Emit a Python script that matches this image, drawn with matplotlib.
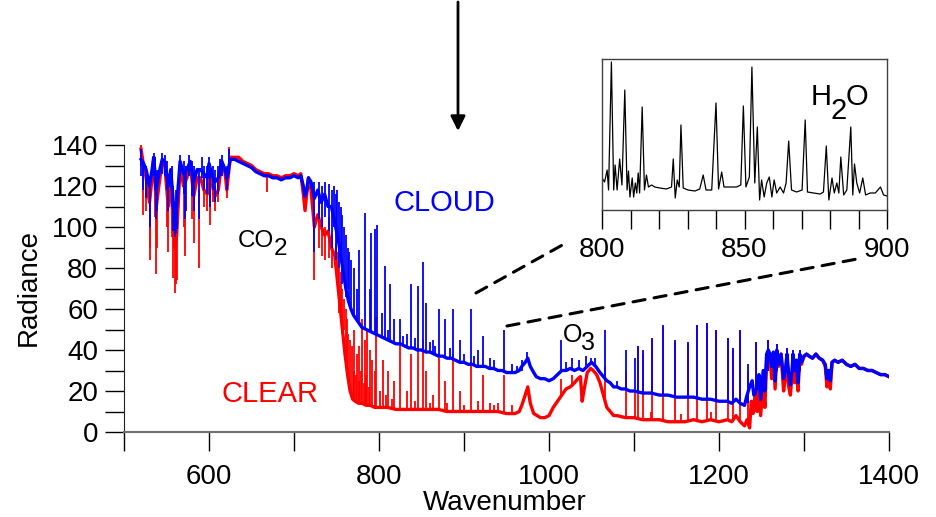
import matplotlib
matplotlib.use("Agg")
import matplotlib.pyplot as plt
from matplotlib.patches import ConnectionPatch

plt.rcParams['font.family'] = ['Liberation Sans', 'DejaVu Sans']

# spectre avec nuage (bleu) : fond continu (nombre d'onde, radiance)
cloud_base = [
    (520, 133), (523, 131), (526, 128), (530, 120), (533, 128), (535, 134), (538, 118),
    (541, 126), (545, 133), (548, 132), (552, 120), (555, 128), (558, 112), (560, 104),
    (562, 110), (566, 132), (570, 126), (574, 128), (578, 132), (582, 122), (586, 128),
    (590, 128), (594, 126), (598, 124), (600, 131), (603, 126), (607, 122), (611, 124),
    (615, 132), (619, 128), (621, 124), (625, 133), (630, 133), (635, 132), (640, 131),
    (645, 130), (650, 129), (655, 127), (660, 126), (665, 125), (670, 125), (675, 124),
    (680, 124), (685, 123), (690, 124), (695, 124), (700, 125), (705, 124), (708, 125),
    (711, 120), (713, 115), (715, 118), (717, 124), (720, 122), (724, 114), (728, 118),
    (732, 112), (736, 116), (740, 110), (744, 110), (748, 102), (752, 94), (755, 86),
    (758, 78), (761, 70), (764, 64), (767, 60), (770, 57), (775, 54), (780, 51),
    (785, 50), (790, 49), (795, 48), (800, 47), (805, 46), (810, 45), (815, 44),
    (820, 43), (825, 43), (830, 42), (835, 41), (840, 41), (845, 40), (850, 40),
    (855, 39), (860, 39), (865, 38), (870, 37), (875, 37), (880, 36), (885, 36),
    (890, 35), (895, 34), (900, 34), (905, 33), (910, 33), (915, 32), (920, 32),
    (925, 32), (930, 31), (935, 31), (940, 30), (945, 30), (950, 29), (955, 29),
    (960, 29), (965, 30), (968, 32), (972, 34), (975, 36), (978, 32), (982, 29),
    (985, 27), (990, 26), (995, 26), (1000, 25), (1005, 26), (1010, 28), (1015, 30),
    (1020, 30), (1025, 31), (1030, 30), (1035, 31), (1040, 30), (1045, 32), (1050, 34),
    (1055, 32), (1060, 29), (1064, 27), (1068, 25), (1072, 24), (1076, 22), (1080, 22),
    (1085, 21), (1090, 21), (1095, 20), (1100, 20), (1110, 19), (1120, 19), (1130, 18),
    (1140, 18), (1150, 17), (1160, 17), (1170, 17), (1180, 16), (1190, 16), (1200, 15),
    (1210, 15), (1215, 14), (1220, 16), (1225, 14), (1230, 13), (1233, 18), (1236, 22),
    (1239, 25), (1241, 18), (1245, 22), (1247, 28), (1249, 16), (1252, 30), (1254, 20),
    (1256, 38), (1258, 40), (1260, 38), (1262, 32), (1264, 39), (1266, 25), (1268, 40),
    (1270, 33), (1273, 38), (1276, 26), (1278, 30), (1280, 38), (1282, 28), (1284, 23),
    (1286, 30), (1287, 38), (1289, 30), (1291, 35), (1293, 24), (1295, 38), (1297, 34),
    (1300, 37), (1303, 38), (1306, 37), (1310, 36), (1314, 38), (1318, 36), (1322, 35),
    (1325, 33), (1327, 26), (1329, 30), (1331, 25), (1333, 34), (1336, 35), (1340, 34),
    (1345, 35), (1350, 33), (1355, 32), (1360, 33), (1365, 31), (1370, 31), (1375, 30),
    (1380, 30), (1385, 29), (1390, 28), (1395, 28), (1400, 27),
]
# raies fines (nombre d'onde, bas, haut)
cloud_lines = [
    (520, 125, 138), (522, 118, 132), (526, 114, 130), (530, 100, 125), (535, 125, 136),
    (536, 118, 134), (538, 104, 124), (539, 108, 128), (545, 126, 136), (548, 125, 135),
    (550, 118, 132), (552, 108, 126), (556, 110, 130), (558, 98, 120), (560, 95, 112),
    (561, 97, 118), (562, 99, 115), (566, 125, 135), (570, 116, 132), (572, 104, 128),
    (573, 108, 130), (576, 125, 135), (580, 115, 132), (582, 108, 130), (588, 104, 128),
    (592, 124, 134), (594, 118, 130), (598, 116, 130), (600, 126, 134), (601, 110, 130),
    (605, 118, 130), (607, 112, 128), (611, 116, 130), (613, 125, 133), (615, 125, 135),
    (621, 118, 130), (623, 126, 138),
    (724, 88, 122), (729, 104, 122), (733, 100, 120), (737, 105, 122), (741, 98, 121),
    (745, 90, 118), (747, 100, 120), (749, 84, 116), (751, 92, 118), (753, 80, 112),
    (755, 88, 110), (757, 72, 106), (759, 78, 100), (761, 66, 96), (763, 70, 90),
    (765, 62, 88), (767, 60, 84), (770, 56, 80), (774, 54, 70), (776, 54, 89),
    (783, 50, 107), (789, 49, 70), (791, 49, 97), (795, 48, 99), (798, 48, 101),
    (804, 46, 58), (807, 46, 81), (810, 45, 50), (813, 45, 72), (818, 44, 55),
    (825, 43, 55), (828, 43, 47), (833, 42, 48), (838, 41, 72), (842, 40, 46),
    (846, 40, 71), (852, 40, 83), (855, 39, 63), (860, 39, 44), (863, 38, 45),
    (866, 38, 42), (870, 37, 60), (878, 36, 55), (884, 36, 41), (887, 35, 60),
    (895, 34, 45), (900, 34, 38), (908, 33, 60), (912, 33, 37), (916, 32, 40),
    (922, 32, 47), (930, 31, 36), (935, 31, 35), (947, 30, 50), (956, 29, 33),
    (962, 29, 32), (968, 30, 35), (974, 34, 39), (1014, 30, 45), (1020, 30, 34),
    (1027, 31, 36), (1035, 31, 35), (1043, 31, 37), (1049, 33, 36), (1054, 32, 36),
    (1066, 26, 50), (1080, 22, 25), (1091, 21, 40), (1101, 20, 36), (1105, 20, 42),
    (1111, 19, 40), (1121, 19, 46), (1134, 18, 52), (1148, 17, 45), (1164, 17, 44),
    (1174, 17, 52), (1186, 16, 53), (1197, 15, 50), (1211, 15, 46), (1217, 14, 41),
    (1225, 15, 50), (1234, 14, 33), (1243, 18, 44), (1258, 30, 45), (1268, 30, 43),
    (1280, 30, 41), (1287, 30, 40), (1295, 30, 40),
]

# spectre ciel clair (rouge)
clear_base = [
    (520, 138), (523, 130), (526, 124), (530, 112), (533, 124), (535, 134), (538, 110),
    (541, 120), (545, 132), (548, 130), (552, 110), (555, 124), (558, 100), (560, 90),
    (562, 96), (566, 130), (570, 120), (574, 124), (578, 131), (582, 115), (586, 124),
    (590, 124), (594, 118), (598, 116), (600, 130), (603, 122), (607, 115), (611, 118),
    (615, 132), (619, 126), (621, 118), (625, 134), (630, 134), (635, 134), (640, 132),
    (645, 131), (650, 130), (655, 128), (660, 127), (665, 126), (670, 126), (675, 125),
    (680, 125), (685, 124), (690, 125), (695, 125), (700, 126), (705, 125), (708, 126),
    (711, 116), (713, 108), (715, 116), (717, 124), (720, 118), (724, 100), (728, 106),
    (732, 100), (736, 96), (740, 98), (744, 90), (748, 86), (751, 74), (754, 62),
    (757, 50), (760, 38), (763, 28), (766, 20), (769, 16), (772, 15), (776, 14),
    (780, 14), (785, 13), (790, 13), (795, 12), (800, 12), (810, 12), (820, 11),
    (830, 11), (840, 11), (850, 11), (860, 11), (870, 11), (880, 10), (890, 10),
    (900, 10), (910, 10), (920, 10), (930, 10), (940, 10), (950, 9), (960, 9),
    (965, 10), (968, 13), (972, 18), (975, 22), (978, 14), (982, 9), (986, 8),
    (990, 7), (995, 7), (1000, 8), (1005, 12), (1010, 15), (1015, 18), (1020, 21),
    (1025, 22), (1030, 24), (1034, 26), (1037, 27), (1039, 15), (1041, 20), (1045, 29),
    (1049, 31), (1052, 30), (1056, 28), (1060, 24), (1064, 18), (1068, 12), (1072, 10),
    (1076, 8), (1080, 8), (1090, 7), (1100, 7), (1110, 6), (1120, 6), (1130, 6),
    (1140, 5), (1150, 5), (1160, 5), (1170, 6), (1180, 5), (1190, 6), (1200, 5),
    (1210, 6), (1215, 5), (1220, 8), (1225, 5), (1230, 3), (1233, 6), (1236, 2),
    (1238, 15), (1240, 9), (1243, 20), (1245, 10), (1247, 22), (1249, 8), (1252, 24),
    (1254, 12), (1256, 34), (1258, 36), (1260, 36), (1262, 26), (1264, 38), (1266, 21),
    (1268, 38), (1270, 32), (1273, 38), (1276, 20), (1278, 26), (1280, 36), (1282, 22),
    (1284, 18), (1286, 28), (1287, 36), (1289, 24), (1291, 35), (1293, 20), (1295, 37),
    (1297, 33), (1300, 37), (1303, 38), (1306, 37), (1310, 36), (1314, 38), (1318, 36),
    (1322, 35), (1325, 32), (1327, 22), (1329, 30), (1331, 21), (1333, 34), (1336, 35),
    (1340, 34), (1345, 35), (1350, 33), (1355, 32), (1360, 33), (1365, 31), (1370, 31),
    (1375, 30), (1380, 30), (1385, 29), (1390, 28), (1395, 28), (1400, 27),
]
clear_lines = [
    (520, 130, 140), (522, 106, 130), (526, 108, 124), (530, 84, 112), (531, 90, 118),
    (536, 105, 130), (538, 77, 110), (539, 90, 112), (550, 100, 128), (552, 88, 112),
    (556, 95, 124), (558, 75, 100), (560, 68, 92), (561, 72, 95), (562, 74, 96),
    (570, 100, 125), (572, 86, 118), (580, 104, 128), (582, 92, 118), (588, 80, 118),
    (594, 110, 125), (598, 108, 125), (601, 101, 125), (605, 112, 125), (607, 108, 120),
    (611, 112, 125), (621, 114, 125), (623, 128, 139), (668, 117, 127),
    (724, 74, 110), (729, 90, 112), (733, 86, 104), (737, 84, 100), (741, 85, 105),
    (745, 80, 96), (749, 78, 92), (752, 70, 88), (753, 58, 80), (755, 60, 78),
    (757, 48, 70), (759, 50, 65), (761, 35, 60), (762, 30, 55), (764, 25, 48),
    (766, 20, 45), (768, 16, 42), (770, 15, 30), (771, 15, 50), (773, 14, 28),
    (774, 14, 38), (776, 14, 25), (777, 14, 42), (779, 14, 30), (780, 14, 55),
    (782, 13, 24), (783, 13, 45), (785, 13, 28), (786, 13, 50), (788, 13, 22),
    (789, 13, 40), (792, 12, 35), (795, 12, 30), (797, 12, 56), (801, 12, 20),
    (805, 12, 35), (808, 12, 18), (811, 12, 30), (815, 12, 16),
    (818, 11, 25), (825, 11, 43), (833, 11, 20), (838, 11, 38), (842, 11, 15),
    (846, 11, 41), (852, 11, 45), (855, 11, 30), (860, 11, 14), (863, 11, 18),
    (870, 11, 36), (878, 10, 25), (880, 10, 14), (887, 10, 38), (895, 10, 20),
    (900, 10, 13), (908, 10, 34), (916, 10, 15), (922, 10, 28), (930, 10, 14),
    (935, 10, 13), (940, 10, 14), (947, 9, 28), (956, 9, 13), (1014, 18, 26),
    (1027, 22, 28), (1066, 15, 32), (1091, 7, 30), (1101, 7, 20), (1105, 6, 42),
    (1111, 6, 38), (1120, 6, 10), (1121, 6, 45), (1134, 6, 51), (1148, 5, 44),
    (1155, 5, 9), (1164, 5, 43), (1174, 6, 52), (1186, 5, 53), (1190, 6, 10),
    (1197, 6, 50), (1211, 6, 46), (1217, 5, 40), (1225, 5, 50), (1234, 3, 30),
    (1243, 10, 44), (1258, 30, 45), (1268, 30, 43), (1280, 30, 41), (1287, 30, 40),
    (1295, 30, 40),
]

# zoom 800-900 (raies H2O), unites arbitraires
zoom_wn = [800.0, 800.9, 801.8, 802.3, 803.3, 804.1, 804.6, 805.3, 806.2, 807.0,
           808.0, 808.8, 809.3, 809.8, 810.6, 811.1, 811.7, 812.2, 812.7, 813.2,
           814.1, 814.9, 815.6, 816.3, 817.4, 818.5, 820.3, 822.6, 824.4, 825.0,
           825.7, 826.4, 827.1, 827.7, 828.5, 830.2, 832.6, 834.3, 835.5, 836.5,
           838.5, 840.0, 840.9, 842.0, 842.8, 844.9, 847.2, 848.7, 849.6, 850.5,
           851.7, 852.6, 853.6, 854.5, 855.3, 856.0, 856.9, 857.8, 858.7, 859.6,
           860.4, 861.3, 862.5, 863.7, 864.6, 865.5, 866.5, 868.3, 870.2, 871.3,
           872.1, 874.2, 876.6, 877.7, 878.7, 879.6, 880.7, 881.5, 882.4, 883.1,
           883.8, 884.8, 885.9, 887.3, 888.0, 888.6, 889.4, 890.4, 891.5, 892.5,
           894.1, 895.9, 897.7, 898.8, 900.0]
zoom_val = [32, 28, 40, 20, 148, 20, 45, 20, 51, 25,
            120, 20, 39, 13, 32, 13, 27, 17, 37, 17,
            103, 20, 35, 23, 25, 23, 22, 21, 23, 51,
            12, 30, 23, 85, 22, 20, 19, 21, 35, 20,
            20, 107, 21, 38, 23, 23, 23, 25, 104, 23,
            33, 143, 27, 83, 10, 30, 13, 27, 33, 13,
            30, 17, 23, 17, 27, 69, 20, 18, 20, 90,
            18, 17, 16, 18, 64, 10, 32, 17, 27, 17,
            53, 15, 20, 83, 15, 46, 27, 17, 32, 15,
            17, 17, 23, 15, 14]

W, H = 936, 517
def fx(px):
    return px / W
def fy(py):
    return 1 - py / H

def tracer(ax, base, lines, couleur):
    # fond epais (bruit du spectre) + raies fines
    ax.plot([p[0] for p in base], [p[1] for p in base], color=couleur, lw=2.4)
    ax.vlines([l[0] for l in lines], [l[1] for l in lines], [l[2] for l in lines],
              color=couleur, lw=1.3)

fig = plt.figure(figsize=(W / 100, H / 100), dpi=100)

# axes principal
ax = fig.add_axes([fx(124), fy(432), (889 - 124) / W, (432 - 145) / H])
tracer(ax, clear_base, clear_lines, '#ff0000')
tracer(ax, cloud_base, cloud_lines, '#0000ff')
ax.set_xlim(500, 1400)
ax.set_ylim(0, 140)
ax.set_xticks(range(600, 1401, 200))
ax.set_xticks(range(500, 1401, 100), minor=True)
ax.set_yticks(range(0, 141, 20))
ax.set_yticks(range(10, 141, 20), minor=True)
ax.tick_params(which='both', direction='out', length=13.7, width=1, color='black')
ax.tick_params(axis='x', which='both', pad=9.5, labelsize=20)
ax.tick_params(axis='y', which='both', pad=5, labelsize=20)
for s in ['top', 'right']:
    ax.spines[s].set_visible(False)
ax.spines['bottom'].set_color('#707070')
ax.spines['bottom'].set_linewidth(1.5)
ax.spines['left'].set_color('#202020')

fig.text(fx(505), fy(510), 'Wavenumber', fontsize=20, ha='center', va='baseline')
fig.text(fx(29), fy(288), 'Radiance', fontsize=20, rotation=90, ha='center', va='center')

# annotations
fig.text(fx(444), fy(211), 'CLOUD', color='#0000ff', fontsize=21, ha='center', va='baseline')
fig.text(fx(270), fy(402), 'CLEAR', color='#ff0000', fontsize=21, ha='center', va='baseline')
fig.text(fx(238), fy(247), 'CO', fontsize=17.5, ha='left', va='baseline')
fig.text(fx(274), fy(255), '2', fontsize=17.5, ha='left', va='baseline')
fig.text(fx(563), fy(342), 'O', fontsize=18, ha='left', va='baseline')
fig.text(fx(581), fy(350), '3', fontsize=18, ha='left', va='baseline')
fig.text(fx(811), fy(105), 'H', fontsize=21, ha='left', va='baseline')
fig.text(fx(831), fy(119), '2', fontsize=21, ha='left', va='baseline')
fig.text(fx(846), fy(105), 'O', fontsize=21, ha='left', va='baseline')

# encart
axi = fig.add_axes([fx(602), fy(210), (887 - 602) / W, (210 - 59) / H])
axi.plot(zoom_wn, zoom_val, color='black', lw=0.9)
axi.set_xlim(800, 900)
axi.set_ylim(0, 151)
axi.set_yticks([])
axi.set_xticks([800, 850, 900])
axi.set_xticks(range(800, 901, 10), minor=True)
axi.tick_params(which='both', direction='out', length=13.7, width=1, color='black')
axi.tick_params(axis='x', which='both', pad=6, labelsize=20)
for s in axi.spines.values():
    s.set_color('#404040')
    s.set_linewidth(1)

# lignes pointillees vers l'encart
for p0, p1 in [((476, 293), (566, 243)), ((507, 326), (857, 259))]:
    con = ConnectionPatch(xyA=(fx(p0[0]), fy(p0[1])), coordsA='figure fraction',
                          xyB=(fx(p1[0]), fy(p1[1])), coordsB='figure fraction',
                          color='black', lw=2.2, linestyle=(0, (4, 3)))
    fig.add_artist(con)

# fleche
ax.annotate('', xy=(fx(458), fy(131)), xytext=(fx(458), fy(2)), xycoords='figure fraction',
            arrowprops=dict(arrowstyle='-|>', color='black', lw=2, mutation_scale=22,
                            shrinkA=0, shrinkB=0))

plt.savefig('out.png', dpi=100)
